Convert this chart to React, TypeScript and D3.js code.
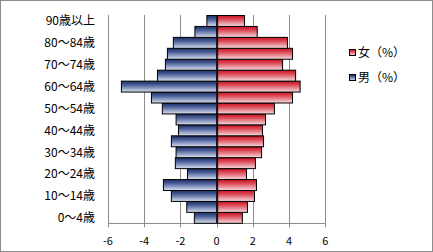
import React from "react";
import * as d3 from "d3";

const categories = [
  "0～4歳", "5～9歳", "10～14歳", "15～19歳", "20～24歳", "25～29歳", "30～34歳",
  "35～39歳", "40～44歳", "45～49歳", "50～54歳", "55～59歳", "60～64歳", "65～69歳",
  "70～74歳", "75～79歳", "80～84歳", "85～89歳", "90歳以上",
];
const male = [-1.23, -1.65, -2.5, -2.94, -1.61, -2.28, -2.24, -2.5, -2.11, -2.24, -3.0, -3.6, -5.26, -3.27, -2.83, -2.72, -2.39, -1.2, -0.54];
const female = [1.42, 1.7, 2.09, 2.2, 1.65, 2.14, 2.48, 2.59, 2.53, 2.7, 3.19, 4.19, 4.61, 4.36, 3.64, 4.19, 3.91, 2.24, 1.54];
const xTicks = [-6, -4, -2, 0, 2, 4, 6];
const legendLabels = ["女（%）", "男（%）"];

const W = 433;
const H = 252;
const FONT = "'Noto Sans CJK JP', 'Noto Sans', sans-serif";

export default function App() {
  const x = d3.scaleLinear().domain([-6, 6]).range([108, 325.3]);
  const y = d3
    .scaleBand<string>()
    .domain(categories)
    .range([223.3, 15.5])
    .paddingInner(0)
    .paddingOuter(0);
  const bw = y.bandwidth();
  const x0 = x(0);
  const top = 15;
  const bottom = 223.3;

  return (
    <svg
      width={W}
      height={H}
      style={{ position: "absolute", left: 0, top: 0, background: "#fff" }}
      fontFamily={FONT}
    >
      <defs>
        <linearGradient id="gBlue" x1="0" y1="0" x2="0" y2="1">
          <stop offset="0" stopColor="#1c2c62" />
          <stop offset="0.35" stopColor="#4a5e98" />
          <stop offset="1" stopColor="#dce2f2" />
        </linearGradient>
        <linearGradient id="gRed" x1="0" y1="0" x2="0" y2="1">
          <stop offset="0" stopColor="#c8101e" />
          <stop offset="0.35" stopColor="#dc4a58" />
          <stop offset="1" stopColor="#f6dce0" />
        </linearGradient>
      </defs>
      <rect x={0.5} y={0.5} width={W - 1} height={H - 1} fill="#fff" stroke="#8c8c8c" />

      {/* gridlines */}
      {xTicks.map((t) => (
        <line
          key={"g" + t}
          x1={Math.round(x(t)) + 0.5}
          x2={Math.round(x(t)) + 0.5}
          y1={top}
          y2={bottom + (t === 0 ? 0 : 0)}
          stroke="#8c8c8c"
        />
      ))}
      {/* bottom axis */}
      <line x1={x(-6)} x2={x(6)} y1={Math.round(bottom) + 0.5} y2={Math.round(bottom) + 0.5} stroke="#8c8c8c" />
      {xTicks.map((t) => (
        <g key={"t" + t}>
          <line
            x1={Math.round(x(t)) + 0.5}
            x2={Math.round(x(t)) + 0.5}
            y1={bottom}
            y2={bottom + 4}
            stroke="#8c8c8c"
          />
          <text x={x(t)} y={245} fontSize={11} textAnchor="middle" fill="#000">
            {t}
          </text>
        </g>
      ))}

      {/* bars */}
      {categories.map((c, i) => (
        <g key={c}>
          <rect
            x={x(male[i])}
            y={y(c)!}
            width={x0 - x(male[i])}
            height={bw}
            fill="url(#gBlue)"
            stroke="#000"
            strokeWidth={1}
          />
          <rect
            x={x0 + 1}
            y={y(c)!}
            width={x(female[i]) - x0 - 1}
            height={bw}
            fill="url(#gRed)"
            stroke="#000"
            strokeWidth={1}
          />
        </g>
      ))}

      {/* category labels */}
      {categories.map((c, i) =>
        i % 2 === 0 ? (
          <text
            key={"l" + c}
            x={95}
            y={y(c)! + bw / 2}
            dy="0.36em"
            fontSize={12}
            textAnchor="end"
            fill="#000"
          >
            {c}
          </text>
        ) : null
      )}

      {/* legend */}
      {legendLabels.map((l, i) => (
        <g key={l} transform={`translate(349, ${53 + i * 25})`}>
          <rect
            x={0.5}
            y={-3.5}
            width={6}
            height={6}
            fill={i === 0 ? "url(#gRed)" : "url(#gBlue)"}
            stroke="#000"
          />
          <text x={9} y={0} dy="0.36em" fontSize={12} fill="#000">
            {l}
          </text>
        </g>
      ))}
    </svg>
  );
}
